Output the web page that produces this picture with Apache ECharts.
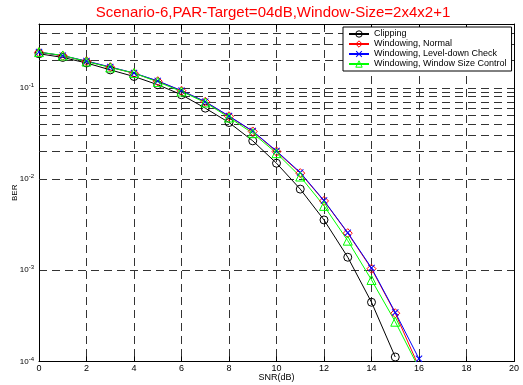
<!DOCTYPE html>
<html>
<head>
<meta charset="utf-8">
<script src="https://cdn.jsdelivr.net/npm/echarts@6/dist/echarts.min.js"></script>
<style>
  html, body { margin: 0; padding: 0; background: #fff; }
  #chart { width: 523px; height: 385px; }
</style>
</head>
<body>
<div id="chart"></div>
<script>
// SNR (dB) points
const snr = [0, 1, 2, 3, 4, 5, 6, 7, 8, 9, 10, 11, 12, 13, 14, 15, 16]

// BER
const clipping = [0.236, 0.215, 0.187, 0.157, 0.133, 0.108, 0.0838, 0.0598, 0.0416, 0.0262, 0.0149, 0.00775, 0.00356, 0.00139, 0.000446, 0.000112]
const winNormal = [0.245, 0.224, 0.195, 0.168, 0.144, 0.118, 0.0927, 0.0702, 0.0487, 0.0332, 0.0200, 0.0116, 0.00575, 0.00255, 0.00104, 0.000338, 0.000087]
const winLevelDown = [0.246, 0.225, 0.196, 0.169, 0.145, 0.119, 0.0930, 0.0705, 0.0490, 0.0335, 0.0203, 0.0118, 0.00580, 0.00258, 0.00106, 0.000345, 0.000107]
const winSizeCtrl = [0.246, 0.226, 0.194, 0.167, 0.145, 0.116, 0.0910, 0.0690, 0.0472, 0.0318, 0.0192, 0.01065, 0.00508, 0.00211, 0.000783, 0.000273, 0.000084]

const seriesNames = ['Clipping', 'Windowing, Normal', 'Windowing, Level-down Check', 'Windowing, Window Size Control']
const seriesColors = ['#000000', '#ff0000', '#0000ff', '#00ff00']

// log grid: decades and the 2..9 lines inside each
const decades = [1e-4, 1e-3, 1e-2, 1e-1]
const minorSteps = [2, 3, 4, 5, 6, 7, 8, 9]
const yMin = 1e-4
const yMax = 0.5

const minorGrid = []
decades.forEach(d => {
  minorSteps.forEach(m => {
    const v = d * m
    if (v < yMax * 0.999) minorGrid.push({ yAxis: v })
  })
})

const font = '"Liberation Sans", Arial, Helvetica, sans-serif'
const dash = [8, 5]
const gridColor = '#333'
const crossSymbol = 'path://M0,1L1,0L5,4L9,0L10,1L6,5L10,9L9,10L5,6L1,10L0,9L4,5Z'

function pairs (arr) {
  return arr.map((v, i) => [snr[i], v])
}

function supLabel (v) {
  const e = Math.log10(v)
  if (Math.abs(e - Math.round(e)) > 1e-6) return ''
  return '{b|10}{s|' + Math.round(e) + '}'
}

// hollow marker style (MATLAB-like open symbols)
function hollow (c) {
  return { color: 'rgba(0,0,0,0)', borderColor: c, borderWidth: 1 }
}

const xCommon = {
  type: 'value',
  min: 0,
  max: 20,
  interval: 2,
  axisLine: { show: true, onZero: false, lineStyle: { color: '#000', width: 1 } },
  axisTick: { show: true, inside: true, length: 5, lineStyle: { color: '#000' } }
}

const yCommon = {
  type: 'log',
  logBase: 10,
  min: yMin,
  max: yMax,
  axisLine: { show: true, onZero: false, lineStyle: { color: '#000', width: 1 } },
  axisTick: { show: false }
}

const option = {
  animation: false,
  backgroundColor: '#fff',
  textStyle: { fontFamily: font },
  title: {
    text: 'Scenario-6,PAR-Target=04dB,Window-Size=2x4x2+1',
    left: 273,
    top: 5,
    padding: 0,
    textAlign: 'center',
    textStyle: { color: '#ff0000', fontSize: 15, fontWeight: 'normal', fontFamily: font }
  },
  legend: {
    data: [
      { name: seriesNames[0], itemStyle: hollow(seriesColors[0]) },
      { name: seriesNames[1], itemStyle: hollow(seriesColors[1]) },
      { name: seriesNames[2], itemStyle: { color: seriesColors[2] } },
      { name: seriesNames[3], itemStyle: hollow(seriesColors[3]) }
    ],
    orient: 'vertical',
    left: 343,
    top: 27,
    z: 20,
    padding: [2, 5, 2, 5],
    itemGap: 0,
    itemWidth: 20,
    itemHeight: 8,
    selectedMode: false,
    backgroundColor: '#fff',
    borderColor: '#000',
    borderWidth: 1,
    textStyle: { color: '#000', fontSize: 9, lineHeight: 10, fontFamily: font }
  },
  grid: { left: 39, right: 9, top: 24, bottom: 23.5, containLabel: false, outerBoundsMode: 'none' },
  xAxis: [
    Object.assign({}, xCommon, {
      position: 'bottom',
      name: 'SNR(dB)',
      nameLocation: 'middle',
      nameGap: 12,
      nameMoveOverlap: false,
      nameTextStyle: { color: '#000', fontSize: 9, fontFamily: font },
      axisLabel: { color: '#000', fontSize: 9, margin: 3, fontFamily: font },
      splitLine: { show: true, lineStyle: { color: gridColor, type: dash, width: 1 } }
    }),
    Object.assign({}, xCommon, {
      position: 'top',
      axisLabel: { show: false },
      splitLine: { show: false }
    })
  ],
  yAxis: [
    Object.assign({}, yCommon, {
      position: 'left',
      name: 'BER',
      nameLocation: 'middle',
      nameRotate: 90,
      nameGap: 20,
      nameMoveOverlap: false,
      nameTextStyle: { color: '#000', fontSize: 8, fontFamily: font },
      axisLabel: {
        showMaxLabel: false,
        margin: 5,
        formatter: supLabel,
        rich: {
          b: { color: '#000', fontSize: 8, fontFamily: font },
          s: { color: '#000', fontSize: 6, fontFamily: font, padding: [0, 0, 5, 0] }
        }
      },
      splitLine: { show: true, lineStyle: { color: gridColor, type: dash, width: 1 } }
    }),
    Object.assign({}, yCommon, {
      position: 'right',
      axisLabel: { show: false },
      splitLine: { show: false }
    })
  ],
  series: [
    {
      // minor log grid lines, kept behind the curves and the legend
      type: 'line',
      z: 1,
      data: [],
      silent: true,
      markLine: {
        z: 1,
        silent: true,
        symbol: 'none',
        label: { show: false },
        lineStyle: { color: gridColor, type: dash, width: 1 },
        data: minorGrid
      }
    },
    {
      name: seriesNames[0],
      type: 'line',
      data: pairs(clipping),
      symbol: 'circle',
      symbolSize: 8,
      lineStyle: { color: seriesColors[0], width: 1 },
      itemStyle: hollow(seriesColors[0])
    },
    {
      name: seriesNames[1],
      type: 'line',
      data: pairs(winNormal),
      symbol: 'diamond',
      symbolSize: 9,
      lineStyle: { color: seriesColors[1], width: 1 },
      itemStyle: hollow(seriesColors[1])
    },
    {
      name: seriesNames[2],
      type: 'line',
      data: pairs(winLevelDown),
      symbol: crossSymbol,
      symbolSize: 7,
      lineStyle: { color: seriesColors[2], width: 1 },
      itemStyle: { color: seriesColors[2] }
    },
    {
      name: seriesNames[3],
      type: 'line',
      data: pairs(winSizeCtrl),
      symbol: 'triangle',
      symbolSize: 9,
      lineStyle: { color: seriesColors[3], width: 1 },
      itemStyle: hollow(seriesColors[3])
    }
  ]
}

const myChart = echarts.init(document.getElementById('chart'))
myChart.setOption(option)
</script>
</body>
</html>
